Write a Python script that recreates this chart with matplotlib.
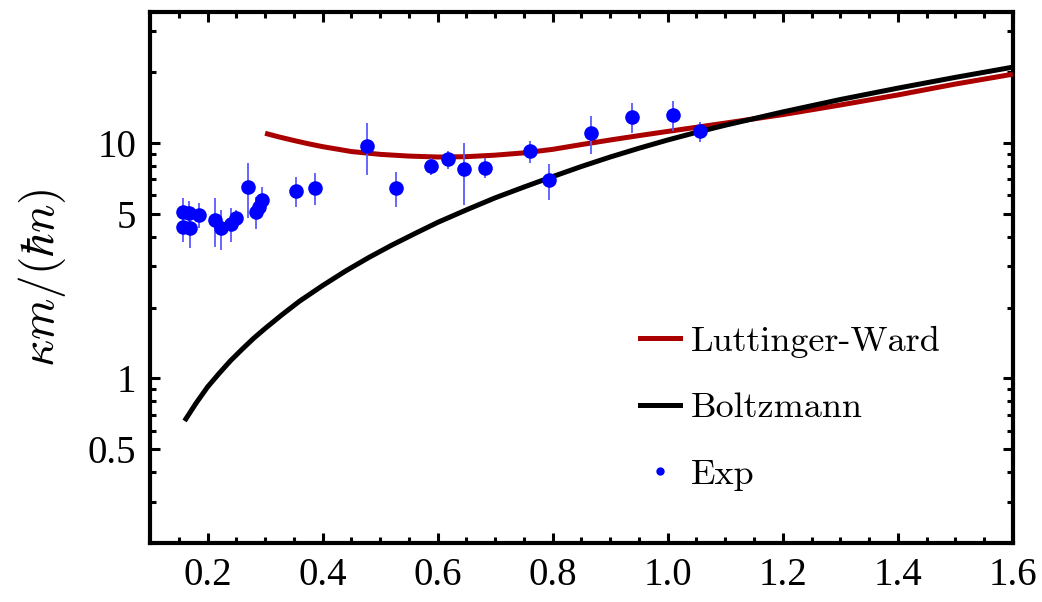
import matplotlib
matplotlib.use('Agg')
import matplotlib.pyplot as plt
from matplotlib.lines import Line2D
from matplotlib.ticker import FixedLocator, NullFormatter

plt.rcParams['mathtext.fontset'] = 'cm'

# experimental points (T/T_F, kappa m/(hbar n), error)
exp_x = [0.158, 0.168, 0.185, 0.158, 0.170, 0.213, 0.224, 0.240, 0.249,
         0.271, 0.285, 0.290, 0.294, 0.353, 0.386, 0.478, 0.527, 0.588,
         0.618, 0.645, 0.683, 0.760, 0.794, 0.867, 0.938, 1.010, 1.057]
exp_y = [5.10, 5.02, 4.94, 4.40, 4.37, 4.73, 4.34, 4.55, 4.81,
         6.52, 5.10, 5.36, 5.72, 6.27, 6.45, 9.74, 6.45, 7.98,
         8.52, 7.73, 7.85, 9.22, 6.94, 11.0, 12.9, 13.2, 11.2]
exp_err = [0.75, 0.63, 0.60, 0.60, 0.80, 1.10, 0.84, 0.77, 0.40,
           1.70, 0.77, 0.60, 0.78, 0.92, 1.00, 2.40, 1.10, 0.65,
           0.75, 2.30, 0.75, 1.00, 1.20, 2.00, 1.90, 1.90, 1.10]

# Luttinger-Ward curve
lw_x = [0.30, 0.325, 0.35, 0.375, 0.40, 0.45, 0.50, 0.55, 0.60, 0.65, 0.70,
        0.75, 0.80, 0.85, 0.90, 0.95, 1.00, 1.10, 1.20, 1.30, 1.40, 1.50, 1.60]
lw_y = [11.0, 10.6, 10.25, 9.93, 9.65, 9.2, 8.95, 8.8, 8.72, 8.75, 8.88,
        9.08, 9.4, 9.85, 10.3, 10.75, 11.2, 12.15, 13.2, 14.5, 16.0, 17.8, 19.6]

# Boltzmann curve
bz_x = [0.16, 0.17, 0.18, 0.19, 0.20, 0.22, 0.24, 0.26, 0.28, 0.30, 0.33,
        0.36, 0.40, 0.44, 0.48, 0.52, 0.56, 0.60, 0.65, 0.70, 0.75, 0.80,
        0.85, 0.90, 0.95, 1.00, 1.05, 1.10, 1.20, 1.30, 1.40, 1.50, 1.60]
bz_y = [0.66, 0.72, 0.785, 0.85, 0.92, 1.05, 1.19, 1.33, 1.48, 1.63, 1.87,
        2.13, 2.48, 2.86, 3.26, 3.68, 4.12, 4.6, 5.2, 5.85, 6.5, 7.2,
        7.95, 8.72, 9.5, 10.3, 11.1, 11.9, 13.55, 15.3, 17.1, 19.0, 21.0]

y_major = [0.5, 1, 5, 10]
y_major_labels = ['0.5', '1', '5', '10']
y_minor = [0.2, 0.3, 0.4, 0.6, 0.7, 0.8, 0.9, 2, 3, 4, 6, 7, 8, 9, 20, 30]
x_major = [0.2, 0.4, 0.6, 0.8, 1.0, 1.2, 1.4, 1.6]

fig = plt.figure(figsize=(10.42, 6.02), dpi=100)
ax = fig.add_axes([0.144, 0.098, 0.828, 0.882])

ax.plot(lw_x, lw_y, color='#aa0000', lw=3.6, solid_capstyle='butt', zorder=3)
ax.plot(bz_x, bz_y, color='black', lw=3.6, solid_capstyle='butt', zorder=3)
ax.errorbar(exp_x, exp_y, yerr=exp_err, fmt='none', ecolor='#5a5aff',
            elinewidth=1.3, capsize=0, zorder=4)
ax.plot(exp_x, exp_y, 'o', color='#0000ff', ms=10.5, mec='none', zorder=5)

ax.set_yscale('log')
ax.set_xlim(0.1, 1.6)
ax.set_ylim(0.2, 36)

ax.yaxis.set_major_locator(FixedLocator(y_major))
ax.set_yticklabels(y_major_labels)
ax.yaxis.set_minor_locator(FixedLocator(y_minor))
ax.yaxis.set_minor_formatter(NullFormatter())
ax.xaxis.set_major_locator(FixedLocator(x_major))
ax.set_xticklabels(['%.1f' % v for v in x_major])
ax.xaxis.set_minor_locator(FixedLocator([0.15 + 0.05 * i for i in range(29)
                                         if (i % 4) != 1]))

ax.tick_params(which='both', direction='in', top=True, right=True,
               width=2.2, labelsize=28, pad=10)
ax.tick_params(which='major', length=7)
ax.tick_params(which='minor', length=4)
for lab in ax.get_xticklabels() + ax.get_yticklabels():
    lab.set_family('Liberation Serif')
for sp in ax.spines.values():
    sp.set_linewidth(3)

ax.set_ylabel(r'$\kappa m/(\hbar n)$', fontsize=34, labelpad=14)

handles = [Line2D([], [], color='#aa0000', lw=3.6),
           Line2D([], [], color='black', lw=3.6),
           Line2D([], [], ls='none', marker='o', color='#0000ff', ms=6, mec='none')]
ax.legend(handles, ['Luttinger-Ward', 'Boltzmann', 'Exp'], loc='center',
          bbox_to_anchor=(0.742, 0.254), frameon=False,
          prop={'family': 'cmr10', 'size': 26}, handlelength=1.1,
          handletextpad=0.3, labelspacing=0.95)

fig.savefig('out.png', dpi=100)
